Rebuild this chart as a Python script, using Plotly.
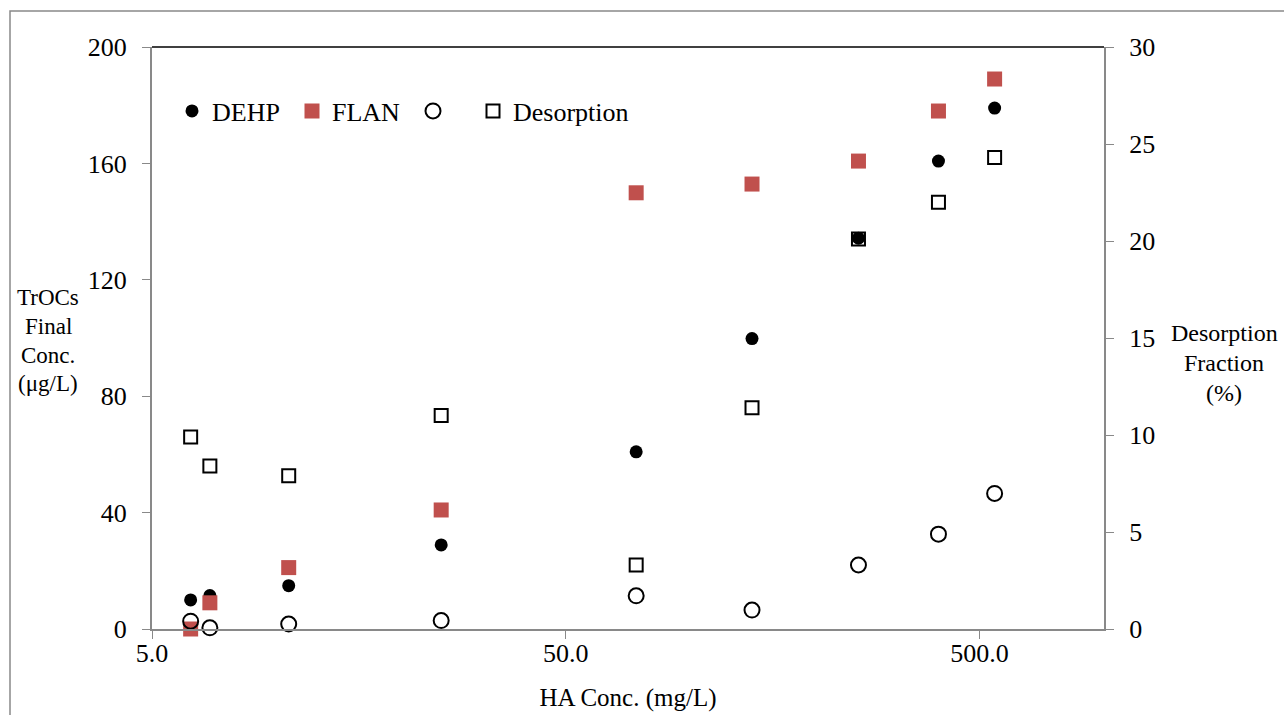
import plotly.graph_objects as go
import math

ha_conc = [6.2, 6.9, 10.7, 25.0, 74.0, 141.0, 255.0, 398.0, 544.0]
dehp = [10.0, 11.5, 14.9, 28.9, 60.9, 99.8, 134.3, 160.8, 179.0]
flan = [0.0, 9.0, 21.1, 40.9, 149.9, 152.9, 160.8, 178.0, 189.0]
other = [2.7, 0.4, 1.7, 2.9, 11.4, 6.5, 22.0, 32.6, 46.6]
desorption = [9.9, 8.4, 7.9, 11.0, 3.3, 11.4, 20.1, 22.0, 24.3]

left_ticks = [0, 40, 80, 120, 160, 200]
right_ticks = [0, 5, 10, 15, 20, 25, 30]
x_ticks = [5, 50, 500]
x_tick_text = ["5.0", "50.0", "500.0"]

FONT = "Liberation Serif, Times New Roman, serif"
GRAY = "#898989"
RED = "#C0504D"
TICK_FS = 26
LEG_FS = 26

W, H = 1284, 715
L, R, T, B = 152, 180, 47, 86
pw, ph = W - L - R, H - T - B

def px(xp):
    return (xp - L) / pw

def py(yp):
    return (H - B - yp) / ph

fig = go.Figure()
fig.add_trace(go.Scatter(x=ha_conc, y=dehp, mode="markers", name="DEHP", legend="legend",
                         marker=dict(symbol="circle", size=13, color="black"),
                         cliponaxis=False))
fig.add_trace(go.Scatter(x=ha_conc, y=flan, mode="markers", name="FLAN", legend="legend2",
                         marker=dict(symbol="square", size=15, color=RED),
                         cliponaxis=False))
fig.add_trace(go.Scatter(x=ha_conc, y=other, mode="markers", name=" ", legend="legend3",
                         marker=dict(symbol="circle-open", size=15, color="black",
                                     line=dict(width=2, color="black")),
                         cliponaxis=False))
fig.add_trace(go.Scatter(x=ha_conc, y=desorption, mode="markers", name="Desorption",
                         yaxis="y2", legend="legend4",
                         marker=dict(symbol="square-open", size=13, color="black",
                                     line=dict(width=2, color="black")),
                         cliponaxis=False))

def leg(xpix):
    return dict(orientation="h", x=px(xpix), y=py(111), xanchor="left", yanchor="middle",
                bgcolor="rgba(0,0,0,0)", font=dict(size=LEG_FS, family=FONT),
                itemsizing="trace")

fig.update_layout(
    width=W, height=H,
    margin=dict(l=L, r=R, t=T, b=B, pad=0),
    paper_bgcolor="white", plot_bgcolor="white",
    font=dict(family=FONT, size=TICK_FS, color="black"),
    showlegend=True,
    legend=leg(172), legend2=leg(292), legend3=leg(413), legend4=leg(473),
    xaxis=dict(type="log", range=[math.log10(5), math.log10(1000)],
               tickvals=x_ticks, ticktext=x_tick_text, automargin=False,
               showgrid=False, zeroline=False, showline=True, linecolor=GRAY, linewidth=2,
               ticks="outside", ticklen=8, tickcolor=GRAY, tickwidth=1,
               tickfont=dict(size=TICK_FS, family=FONT), ticklabelstandoff=-8,
               title=dict(text="HA Conc. (mg/L)", font=dict(size=25, family=FONT), standoff=21)),
    yaxis=dict(range=[0, 200], tickvals=left_ticks, automargin=False,
               showgrid=False, zeroline=False, showline=True, linecolor=GRAY, linewidth=2,
               ticks="outside", ticklen=8, tickcolor=GRAY, tickwidth=1,
               tickfont=dict(size=TICK_FS, family=FONT), ticklabelstandoff=10),
    yaxis2=dict(range=[0, 30], tickvals=right_ticks, overlaying="y", side="right",
                automargin=False,
                showgrid=False, zeroline=False, showline=True, linecolor=GRAY, linewidth=2,
                ticks="outside", ticklen=8, tickcolor=GRAY, tickwidth=1,
                tickfont=dict(size=TICK_FS, family=FONT), ticklabelstandoff=10),
)

# top border of plot area
fig.add_shape(type="line", xref="paper", yref="paper", x0=0, x1=1, y0=1, y1=1,
              line=dict(color="black", width=1.5))
# outer chart frame
fig.add_shape(type="rect", xref="paper", yref="paper",
              x0=px(10), x1=px(W + 10), y0=py(H + 10), y1=py(11),
              line=dict(color=GRAY, width=1.5), layer="below")

left_title = ["TrOCs", "Final", "Conc.", "(μg/L)"]
for i, t in enumerate(left_title):
    fig.add_annotation(text=t, xref="paper", yref="paper", x=px(48), y=py(297 + 29 * i),
                       xanchor="center", yanchor="middle", showarrow=False,
                       font=dict(size=23, family=FONT))
right_title = ["Desorption", "Fraction", "(%)"]
for i, t in enumerate(right_title):
    fig.add_annotation(text=t, xref="paper", yref="paper", x=px(1224), y=py(333 + 30 * i),
                       xanchor="center", yanchor="middle", showarrow=False,
                       font=dict(size=24, family=FONT))

fig.write_html("out.html")
